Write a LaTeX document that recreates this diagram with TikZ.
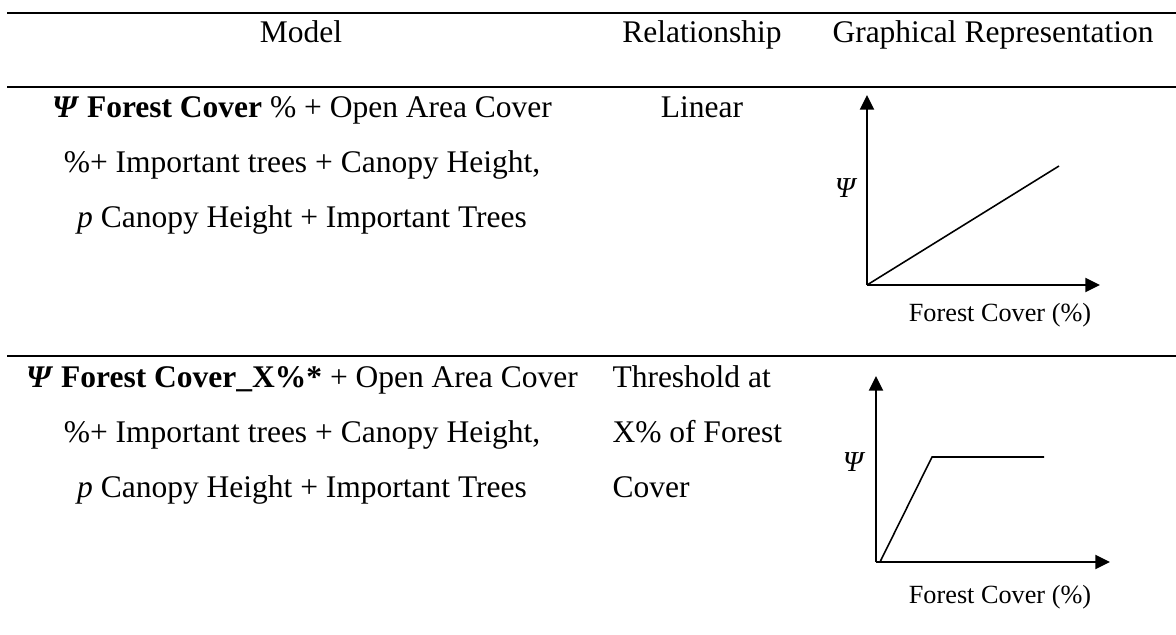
\documentclass[tikz,border=0pt]{standalone}
\usepackage{fontspec}
\setmainfont{Liberation Serif}
\usetikzlibrary{arrows.meta,positioning}

\begin{document}
\begin{tikzpicture}[
    x=0.381pt, y=-0.381pt,
    cell/.style={anchor=base, inner sep=0pt, font=\fontsize{12}{14}\selectfont},
    leftcell/.style={cell, anchor=base west},
    axislabel/.style={anchor=center, inner sep=0pt, font=\fontsize{10}{12}\selectfont},
    psilabel/.style={anchor=center, inner sep=0pt, font=\fontsize{11}{13}\selectfont\itshape},
    rule/.style={line width=1pt},
    axis/.style={-{Triangle[length=5.6pt,width=5.4pt]}, line width=0.6pt},
    trend/.style={line width=0.6pt, line join=miter},
]
    \useasboundingbox (0,0) rectangle (1176,635);

    % Table rules
    \coordinate (r0a) at (7,13);   \coordinate (r0b) at (1176,13);
    \coordinate (r1a) at (7,87);   \coordinate (r1b) at (1176,87);
    \coordinate (r2a) at (7,356);  \coordinate (r2b) at (1176,356);
    \draw[rule] (r0a) -- (r0b);
    \draw[rule] (r1a) -- (r1b);
    \draw[rule] (r2a) -- (r2b);

    % Header
    \node[cell] (hmodel) at (301,42) {Model};
    \node[cell] (hrel) at (702,42) {Relationship};
    \node[cell] (hgraph) at (993,42) {Graphical Representation};

    % Row 1: linear model
    \node[cell] (m1a) at (302,117) {\textbf{\textit{Ψ} Forest Cover} \% + Open Area Cover};
    \node[cell] (m1b) at (302,172) {\%+ Important trees + Canopy Height,};
    \node[cell] (m1c) at (302,227) {\textit{p} Canopy Height + Important Trees};
    \node[cell] (rel1) at (702,117) {Linear};

    \coordinate (o1) at (867,285);
    \coordinate (ytip1) at (867,95);
    \coordinate (xtip1) at (1100,285);
    \coordinate (end1) at (1059,166);
    \draw[axis] (o1) -- (ytip1);
    \draw[axis] (o1) -- (xtip1);
    \draw[trend] (o1) -- (end1);
    \node[psilabel] (psi1) at (845,188) {Ψ};
    \node[axislabel] (fc1) at (1000,315) {Forest Cover (\%)};

    % Row 2: threshold model
    \node[cell] (m2a) at (302,387) {\textbf{\textit{Ψ} Forest Cover\_X\%*} + Open Area Cover};
    \node[cell] (m2b) at (302,442) {\%+ Important trees + Canopy Height,};
    \node[cell] (m2c) at (302,497) {\textit{p} Canopy Height + Important Trees};
    \node[leftcell] (rel2a) at (612,387) {Threshold at};
    \node[leftcell] (rel2b) at (612,442) {X\% of Forest};
    \node[leftcell] (rel2c) at (612,497) {Cover};

    \coordinate (o2) at (876,562);
    \coordinate (ytip2) at (876,376);
    \coordinate (xtip2) at (1110,562);
    \coordinate (start2) at (880,562);
    \coordinate (knee2) at (932,457);
    \coordinate (end2) at (1044,457);
    \draw[axis] (o2) -- (ytip2);
    \draw[axis] (o2) -- (xtip2);
    \draw[trend] (start2) -- (knee2) -- (end2);
    \node[psilabel] (psi2) at (853,462) {Ψ};
    \node[axislabel] (fc2) at (1000,597) {Forest Cover (\%)};
\end{tikzpicture}
\end{document}
